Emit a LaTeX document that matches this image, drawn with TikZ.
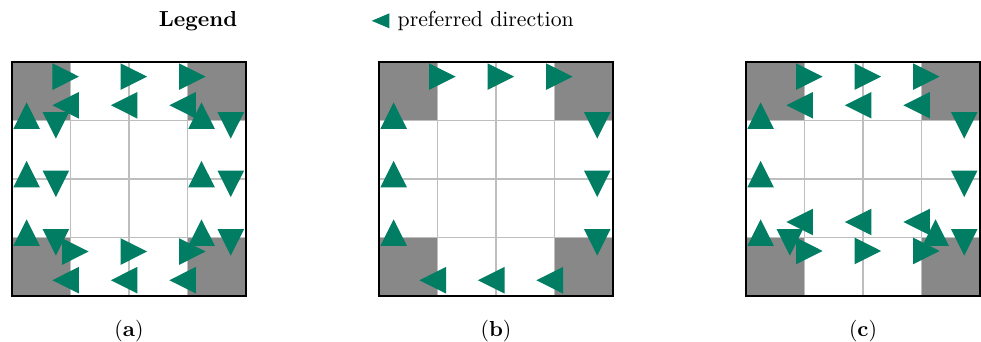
\documentclass[tikz,border=0pt]{standalone}
\definecolor{arrowgreen}{RGB}{0,125,98}
\definecolor{cellgray}{RGB}{136,136,136}
\definecolor{gridgray}{RGB}{190,190,190}
\tikzset{
  tri/.pic={\fill[arrowgreen] (0.31,0) -- (-0.145,0.228) -- (-0.145,-0.228) -- cycle;},
  panelborder/.style={draw=black, line width=0.7pt},
  panelgrid/.style={draw=gridgray, line width=0.6pt},
  sublabel/.style={anchor=base, inner sep=0pt},
}
\newcommand\arrR[2]{\pic at (#1,#2) {tri};}
\newcommand\arrL[2]{\pic[rotate=180] at (#1,#2) {tri};}
\newcommand\arrU[2]{\pic[rotate=90] at (#1,#2) {tri};}
\newcommand\arrD[2]{\pic[rotate=-90] at (#1,#2) {tri};}
\newcommand\gridpanel{%
  \fill[cellgray] (0,0) rectangle (1,1) (3,0) rectangle (4,1) (0,3) rectangle (1,4) (3,3) rectangle (4,4);
  \foreach \g in {1,2,3} {\draw[panelgrid] (\g,0) -- (\g,4); \draw[panelgrid] (0,\g) -- (4,\g);}
  \draw[panelborder] (0,0) rectangle (4,4);
}
\begin{document}
\begin{tikzpicture}[x=26.91pt,y=26.91pt]
\useasboundingbox (-0.2051,-0.7863) rectangle (16.564,5.0598);
% legend
\node[sublabel] (legend) at (3.18,4.615) {\textbf{Legend}};
\fill[arrowgreen] (6.149,4.704) -- (6.45,4.832) -- (6.45,4.576) -- cycle;
\node[anchor=base west, inner sep=0pt] (pd) at (6.586,4.615) {preferred direction};
% panel a
\begin{scope}
\gridpanel
\foreach \m in {1,2,3} {
  \arrL{\m}{3.26} \arrU{0.25}{\m} \arrD{0.75}{\m}
  \arrU{3.24}{\m} \arrD{3.74}{\m}
  \arrR{\m}{0.76} \arrL{\m}{0.27}
}
\arrR{0.835}{3.75} \arrR{2}{3.75} \arrR{3}{3.75}
\node[sublabel] (la) at (2,-0.684) {(\textbf{a})};
\end{scope}
% panel b
\begin{scope}[xshift=6.274*26.91pt]
\gridpanel
\foreach \m in {1,2,3} {
  \arrR{\m}{3.75} \arrD{3.73}{\m} \arrL{\m}{0.27} \arrU{0.25}{\m}
}
\node[sublabel] (lb) at (2,-0.684) {(\textbf{b})};
\end{scope}
% panel c
\begin{scope}[xshift=12.547*26.91pt]
\gridpanel
\foreach \m in {1,2,3} {
  \arrR{\m}{3.75} \arrL{\m}{3.26} \arrU{0.25}{\m} \arrD{3.73}{\m}
  \arrL{\m}{1.265} \arrR{\m}{0.77}
}
\arrD{0.75}{1} \arrU{3.24}{1}
\node[sublabel] (lc) at (2,-0.684) {(\textbf{c})};
\end{scope}
\end{tikzpicture}
\end{document}
